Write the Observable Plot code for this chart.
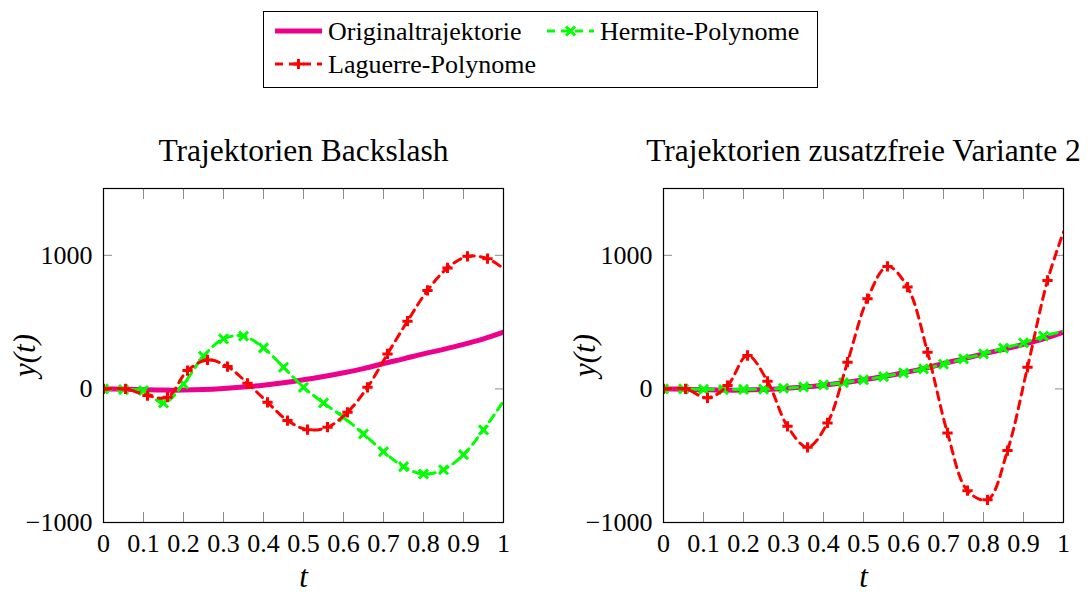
<!DOCTYPE html>
<html>
<head>
<meta charset="utf-8">
<script src="https://cdn.jsdelivr.net/npm/d3@7"></script>
<script src="https://cdn.jsdelivr.net/npm/@observablehq/plot@0.6"></script>
<style>
  body { margin: 0; background: #fff; }
  #wrap { position: relative; width: 1091px; height: 594px; font-family: "Liberation Serif", "Times New Roman", serif; }
  #legend { position: absolute; left: 263px; top: 11px; width: 553px; height: 75px; border: 1px solid #000; }
  .panel { position: absolute; top: 120px; }
  #left { left: 0px; }
  #right { left: 560px; }
</style>
</head>
<body>
<div id="wrap">
  <div id="legend"></div>
  <div class="panel" id="left"></div>
  <div class="panel" id="right"></div>
</div>
<script>
// ---- data ----
const seriesNames = ["Originaltrajektorie", "Hermite-Polynome", "Laguerre-Polynome"];
const titles = ["Trajektorien Backslash", "Trajektorien zusatzfreie Variante 2"];
const xTicks = [0, 0.1, 0.2, 0.3, 0.4, 0.5, 0.6, 0.7, 0.8, 0.9, 1];
const yTicks = [-1000, 0, 1000];

// original trajectory (same in both panels)
const tOrig = [0, 0.05, 0.1, 0.15, 0.2, 0.25, 0.3, 0.35, 0.4, 0.45, 0.5, 0.55, 0.6, 0.65, 0.7, 0.75, 0.8, 0.85, 0.9, 0.95, 1];
const yOrig = [0, -2, -6, -9, -9, -5, 3, 14, 28, 46, 68, 93, 121, 152, 190, 225, 262, 296, 333, 375, 425];

// Hermite
const tHerm = [0, 0.05, 0.1, 0.15, 0.2, 0.25, 0.3, 0.35, 0.4, 0.45, 0.5, 0.55, 0.6, 0.65, 0.7, 0.75, 0.8, 0.85, 0.9, 0.95, 1];
const yHermLeft = [0, -5, -12, -105, 37, 245, 375, 395, 307, 162, 12, -105, -212, -337, -470, -582, -637, -605, -492, -307, -92];
const yHermRight = [0, 0, -3, -5, -4, -2, 5, 15, 30, 47, 68, 92, 120, 150, 185, 225, 262, 305, 345, 395, 432];

// Laguerre
const tLag = [0, 0.055, 0.11, 0.16, 0.21, 0.26, 0.31, 0.36, 0.41, 0.46, 0.51, 0.56, 0.61, 0.66, 0.71, 0.76, 0.81, 0.86, 0.91, 0.96, 1];
const yLagLeft = [0, 0, -50, -62, 137, 217, 167, 42, -100, -237, -305, -287, -175, 12, 262, 507, 737, 905, 992, 975, 900];
const yLagRight = [0, 0, -67, 25, 250, 57, -280, -437, -255, 200, 675, 917, 762, 275, -330, -762, -830, -462, 162, 812, 1175];

const colors = ["#ec008c", "#00ff00", "#ff0000"];

// ---- helpers ----
const rows = (ts, ys) => ts.map((t, i) => ({t, y: ys[i]}));
const fmtX = d => String(+d.toFixed(1));
const fmtY = d => d < 0 ? "\u2212" + Math.abs(d) : String(d);

function panel(el, width, title, yHerm, yLag) {
  const orig = rows(tOrig, yOrig);
  const herm = rows(tHerm, yHerm);
  const lag = rows(tLag, yLag);
  const hermMarks = herm.slice(0, -1);
  const lagMarks = lag.slice(0, -1);
  const tickStroke = "#8a8a8a";
  const chart = Plot.plot({
    width, height: 474,
    marginLeft: 103, marginRight: width - 503, marginTop: 68, marginBottom: 72,
    x: {domain: [0, 1]},
    y: {domain: [-1000, 1500]},
    style: {fontFamily: "'Liberation Serif', 'Times New Roman', serif", fontSize: "26px", background: "transparent", color: "#000", overflow: "visible"},
    marks: [
      Plot.axisX({anchor: "bottom", ticks: xTicks, tickSize: 0, tickPadding: 11, tickFormat: fmtX, label: null, fontSize: 26}),
      Plot.axisX({anchor: "bottom", ticks: xTicks, tickSize: -10, tickFormat: () => "", label: null, stroke: tickStroke}),
      Plot.axisX({anchor: "top", ticks: xTicks, tickSize: -10, tickFormat: () => "", label: null, stroke: tickStroke}),
      Plot.axisY({anchor: "left", ticks: yTicks, tickSize: 0, tickPadding: 11, tickFormat: fmtY, label: null, fontSize: 26}),
      Plot.axisY({anchor: "left", ticks: yTicks, tickSize: -9, tickFormat: () => "", label: null, stroke: tickStroke}),
      Plot.axisY({anchor: "right", ticks: yTicks, tickSize: -9, tickFormat: () => "", label: null, stroke: tickStroke}),
      Plot.line(orig, {x: "t", y: "y", stroke: colors[0], strokeWidth: 5, curve: "catmull-rom", clip: true}),
      Plot.line(herm, {x: "t", y: "y", stroke: colors[1], strokeWidth: 3, strokeDasharray: "8,6", curve: "catmull-rom", clip: true}),
      Plot.dot(hermMarks, {x: "t", y: "y", symbol: "times", r: 4.2, stroke: colors[1], strokeWidth: 3, clip: true}),
      Plot.line(lag, {x: "t", y: "y", stroke: colors[2], strokeWidth: 3, strokeDasharray: "8,6", curve: "catmull-rom", clip: true}),
      Plot.dot(lagMarks, {x: "t", y: "y", symbol: "plus", r: 3.4, stroke: colors[2], strokeWidth: 3, clip: true}),
      Plot.frame({stroke: "#000", strokeWidth: 1.2}),
      Plot.text([title], {frameAnchor: "top", lineAnchor: "middle", textAnchor: "middle", dy: -38, fontSize: 31.5, fill: "#000"}),
      Plot.text(["t"], {frameAnchor: "bottom", lineAnchor: "middle", textAnchor: "middle", dy: 55, fontSize: 31, fontStyle: "italic", fill: "#000"}),
      Plot.text(["y(t)"], {frameAnchor: "left", lineAnchor: "middle", textAnchor: "middle", dx: -78, rotate: -90, fontSize: 31, fontStyle: "italic", fill: "#000"})
    ]
  });
  document.getElementById(el).appendChild(chart);
}

panel("left", 545, titles[0], yHermLeft, yLagLeft);
panel("right", 531, titles[1], yHermRight, yLagRight);

// ---- legend ----
const leg = d3.select("#legend").append("svg")
  .attr("width", 553).attr("height", 75)
  .style("font-family", "'Liberation Serif', 'Times New Roman', serif")
  .style("font-size", "26px");
const items = [
  {name: seriesNames[0], x: 11, y: 19, color: colors[0], width: 5, dash: null, sym: null},
  {name: seriesNames[1], x: 283, y: 19, color: colors[1], width: 3, dash: "8,6", sym: d3.symbolTimes, size: 55},
  {name: seriesNames[2], x: 11, y: 52, color: colors[2], width: 3, dash: "8,6", sym: d3.symbolPlus, size: 36}
];
items.forEach(it => {
  const g = leg.append("g");
  g.append("line").attr("x1", it.x).attr("x2", it.x + 47).attr("y1", it.y).attr("y2", it.y)
    .attr("stroke", it.color).attr("stroke-width", it.width)
    .attr("stroke-dasharray", it.dash);
  if (it.sym) {
    g.append("path").attr("d", d3.symbol(it.sym, it.size)())
      .attr("transform", `translate(${it.x + 23.5},${it.y})`)
      .attr("fill", "none").attr("stroke", it.color).attr("stroke-width", 3);
  }
  g.append("text").attr("x", it.x + 53).attr("y", it.y + 8.5).attr("fill", "#000").text(it.name);
});
</script>
</body>
</html>
